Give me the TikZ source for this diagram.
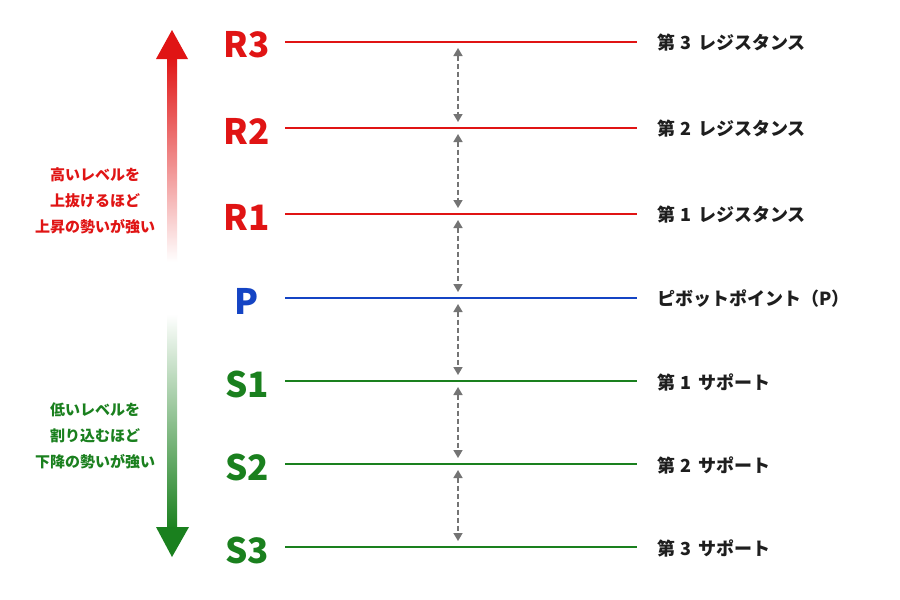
\documentclass[tikz,border=0pt]{standalone}
\usepackage{fontspec}
\newfontfamily\jp{Noto Sans CJK JP}
\usetikzlibrary{arrows.meta}
\definecolor{rred}{HTML}{E01414}
\definecolor{pblue}{HTML}{1444C4}
\definecolor{sgreen}{HTML}{1A801E}
\definecolor{dgray}{HTML}{747474}
\definecolor{ink}{HTML}{1E1E1E}
\newcommand{\dg}[1]{\hspace{5pt}#1\hspace{7pt}}
\tikzset{
  lvllab/.style={font=\jp\bfseries\fontsize{35}{40}\selectfont, inner sep=0pt, anchor=center},
  lvlline/.style={line width=2.5pt},
  rlab/.style={font=\jp\bfseries\fontsize{18}{20}\selectfont, text=ink, inner sep=0pt, anchor=west},
  llab/.style={font=\jp\bfseries\fontsize{15}{26}\selectfont, inner sep=0pt, align=center, anchor=center},
  darr/.style={draw=dgray, line width=1.6pt, dash pattern=on 5pt off 3pt, {Triangle[length=8pt,width=9pt]}-{Triangle[length=8pt,width=9pt]}, shorten <=6pt, shorten >=6pt}
}
\begin{document}
\begin{tikzpicture}[x=1pt,y=-1pt]
\useasboundingbox (0,0) rectangle (900,600);
\fill[white] (0,0) rectangle (900,600);
% levels
\foreach \n/\y/\c/\t in {R3/42/rred/{第\dg{3}レジスタンス}, R2/128/rred/{第\dg{2}レジスタンス}, R1/214/rred/{第\dg{1}レジスタンス}, P/298/pblue/{ピボットポイント（P）}, S1/381/sgreen/{第\dg{1}サポート}, S2/464/sgreen/{第\dg{2}サポート}, S3/547/sgreen/{第\dg{3}サポート}}{
  \node[lvllab, text=\c] (\n lab) at (247,\y+3) {\n};
  \coordinate (\n a) at (285,\y);
  \coordinate (\n b) at (637,\y);
  \coordinate (\n m) at (458,\y);
  \draw[lvlline, draw=\c] (\n a) -- (\n b);
  \node[rlab] (\n txt) at (657,\y+1) {\t};
}
% dashed spacing arrows
\draw[darr] (R3m) -- (R2m);
\draw[darr] (R2m) -- (R1m);
\draw[darr] (R1m) -- (Pm);
\draw[darr] (Pm) -- (S1m);
\draw[darr] (S1m) -- (S2m);
\draw[darr] (S2m) -- (S3m);
% red up arrow
\coordinate (uptip) at (172,30);
\shade[top color=rred, bottom color=white] (167,56) rectangle (177,262);
\fill[rred] (uptip) -- (188,59) -- (156,59) -- cycle;
% green down arrow
\coordinate (dntip) at (172,557);
\shade[top color=white, bottom color=sgreen] (167,314) rectangle (177,530);
\fill[sgreen] (dntip) -- (189,527) -- (156,527) -- cycle;
% side texts
\node[llab, text=rred] (uptext) at (95,201) {高いレベルを\\上抜けるほど\\上昇の勢いが強い};
\node[llab, text=sgreen] (dntext) at (95,436) {低いレベルを\\割り込むほど\\下降の勢いが強い};
\end{tikzpicture}
\end{document}
